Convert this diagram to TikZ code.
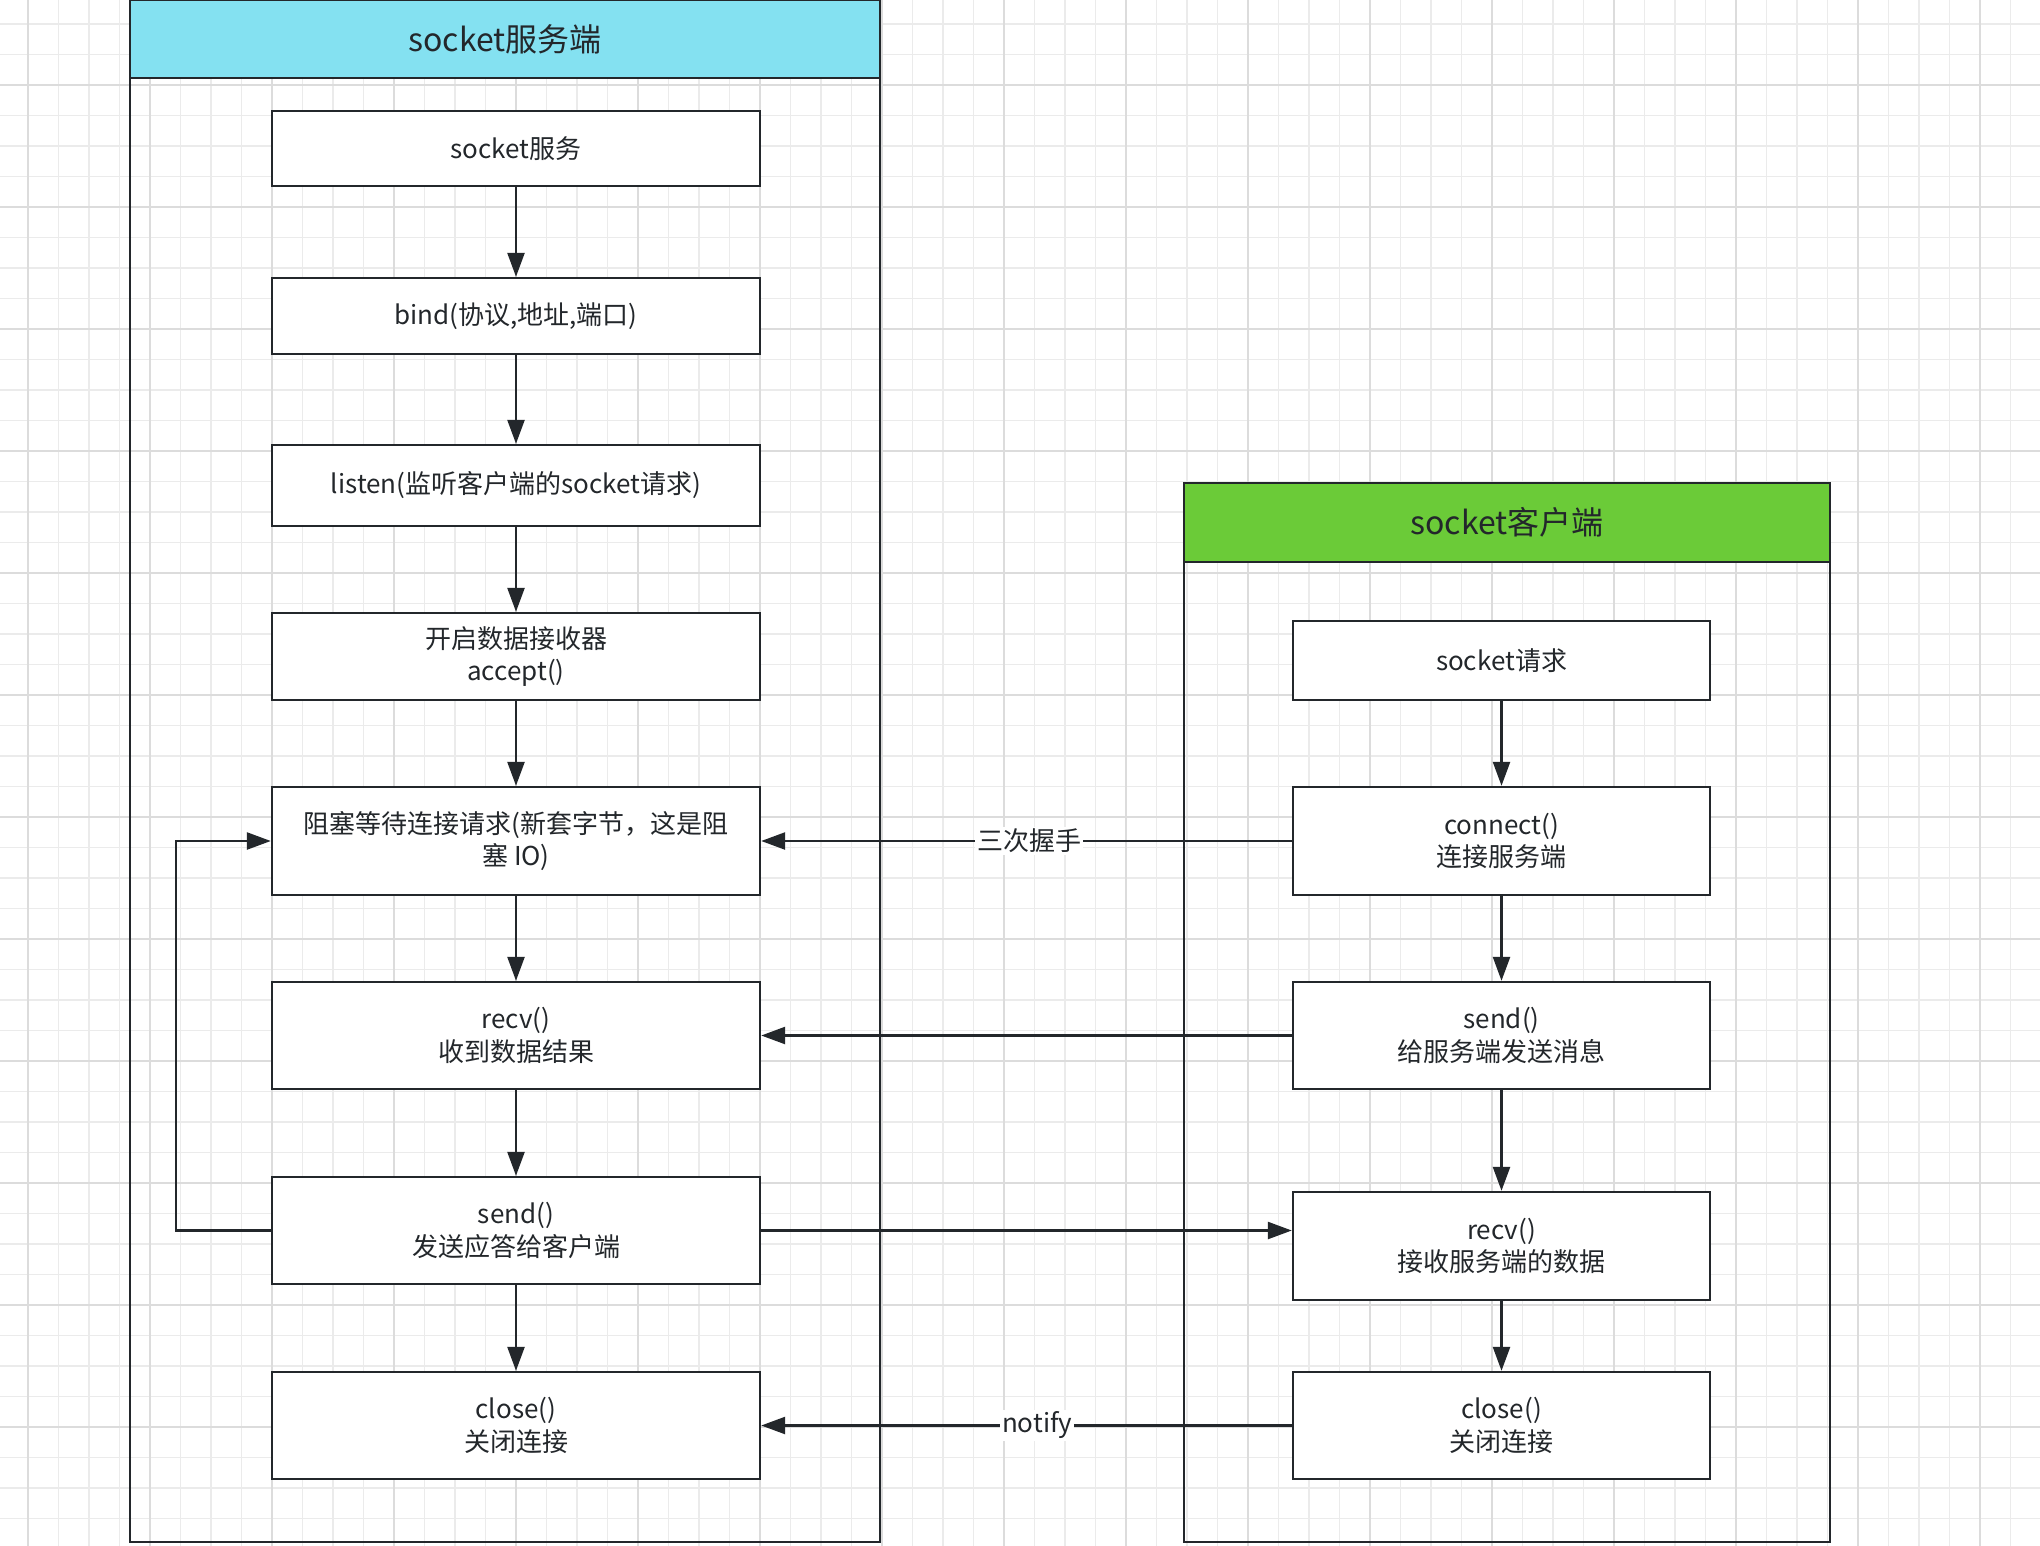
\documentclass[tikz,border=0pt]{standalone}
\usepackage{fontspec}
\setmainfont{Noto Sans CJK SC}
\usetikzlibrary{arrows.meta}
\definecolor{ink}{HTML}{23272B}
\definecolor{srvfill}{HTML}{84E1F1}
\definecolor{clifill}{HTML}{6BCB38}
\definecolor{gridminor}{HTML}{EBEBEB}
\definecolor{gridmajor}{HTML}{DCDCDC}
\begin{document}
\begin{tikzpicture}[x=0.5pt,y=-0.5pt,
  stepbox/.style={draw=ink, line width=1.2pt, fill=white, align=center,
    font=\fontsize{13pt}{16.3pt}\selectfont, text=ink, inner sep=0pt},
  srvbox/.style={stepbox, minimum width=244pt},
  clibox/.style={stepbox, minimum width=208.5pt},
  container/.style={draw=ink, line width=1.35pt, inner sep=0pt},
  titleband/.style={draw=ink, line width=1.35pt, inner sep=0pt, text=ink,
    font=\fontsize{16pt}{19pt}\selectfont, anchor=north},
  flow/.style={draw=ink, line width=1.25pt, -{Triangle[length=12pt,width=8.5pt]}},
  lbl/.style={fill=white, inner sep=1pt, text=ink, font=\fontsize{13pt}{16pt}\selectfont},
  gminor/.style={draw=gridminor, line width=0.85pt},
  gmajor/.style={draw=gridmajor, line width=1pt}
]
\useasboundingbox (0,0) rectangle (2040,1546);
\fill[white] (0,0) rectangle (2040,1546);
% grid
\foreach \i in {0,...,67} {\draw[gminor] (-2.5+30.5*\i,0) -- (-2.5+30.5*\i,1546);}
\foreach \i in {0,...,51} {\draw[gminor] (0,-6.5+30.5*\i) -- (2040,-6.5+30.5*\i);}
\foreach \i in {0,...,16} {\draw[gmajor] (28+122*\i,0) -- (28+122*\i,1546);}
\foreach \i in {0,...,12} {\draw[gmajor] (0,85+122*\i) -- (2040,85+122*\i);}

% containers
\node[container, minimum width=375pt, minimum height=771pt] (srv) at (505,771) {};
\node[titleband, fill=srvfill, minimum width=375pt, minimum height=39pt] (srvtitle) at (srv.north) {socket服务端};
\node[container, minimum width=323pt, minimum height=529.5pt] (cli) at (1507,1012.5) {};
\node[titleband, fill=clifill, minimum width=323pt, minimum height=39.5pt] (clititle) at (cli.north) {socket客户端};

% server steps
\node[srvbox, minimum height=37.5pt] (sb1) at (516,148.5) {socket服务};
\node[srvbox, minimum height=38pt] (sb2) at (516,316) {bind(协议,地址,端口)};
\node[srvbox, minimum height=40.5pt] (sb3) at (516,485.5) {listen(监听客户端的socket请求)};
\node[srvbox, minimum height=43.5pt] (sb4) at (516,656.5) {开启数据接收器\\accept()};
\node[srvbox, minimum height=54pt] (sb5) at (516,841) {阻塞等待连接请求(新套字节，这是阻\\塞 IO)};
\node[srvbox, minimum height=53.5pt] (sb6) at (516,1035.5) {recv()\\收到数据结果};
\node[srvbox, minimum height=53.5pt] (sb7) at (516,1230.5) {send()\\发送应答给客户端};
\node[srvbox, minimum height=53.5pt] (sb8) at (516,1425.5) {close()\\关闭连接};

% client steps
\node[clibox, minimum height=39.5pt] (cb1) at (1501.5,660.5) {socket请求};
\node[clibox, minimum height=54pt] (cb2) at (1501.5,841) {connect()\\连接服务端};
\node[clibox, minimum height=53.5pt] (cb3) at (1501.5,1035.5) {send()\\给服务端发送消息};
\node[clibox, minimum height=54pt] (cb4) at (1501.5,1246) {recv()\\接收服务端的数据};
\node[clibox, minimum height=53.5pt] (cb5) at (1501.5,1425.5) {close()\\关闭连接};

% server flow
\draw[flow] (sb1) -- (sb2);
\draw[flow] (sb2) -- (sb3);
\draw[flow] (sb3) -- (sb4);
\draw[flow] (sb4) -- (sb5);
\draw[flow] (sb5) -- (sb6);
\draw[flow] (sb6) -- (sb7);
\draw[flow] (sb7) -- (sb8);
\coordinate (loopc) at (176,1230.5);
\draw[flow] (sb7.west) -- (loopc) |- (sb5.west);

% client flow
\draw[flow] (cb1) -- (cb2);
\draw[flow] (cb2) -- (cb3);
\draw[flow] (cb3) -- (cb4);
\draw[flow] (cb4) -- (cb5);

% cross flows
\draw[flow] (cb2.west) -- node[lbl, pos=0.495] {三次握手} (sb5.east);
\draw[flow] (cb3.west) -- (sb6.east);
\draw[flow] (sb7.east) -- (sb7.east -| cb4.west);
\draw[flow] (cb5.west) -- node[lbl, pos=0.48] {notify} (sb8.east);
\end{tikzpicture}
\end{document}
